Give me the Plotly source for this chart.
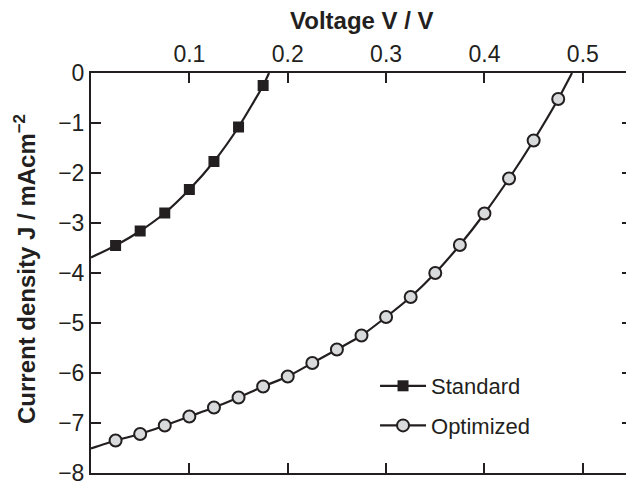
import plotly.graph_objects as go

# ---- data ----
std_v = [0.025, 0.05, 0.075, 0.1, 0.125, 0.15, 0.175]
std_j = [-3.45, -3.16, -2.80, -2.33, -1.77, -1.08, -0.25]
std_j_at_v0 = -3.69      # fitted curve value at V = 0
std_v_at_j0 = 0.181      # fitted curve crossing J = 0

opt_v = [0.025, 0.05, 0.075, 0.1, 0.125, 0.15, 0.175, 0.2, 0.225, 0.25,
         0.275, 0.3, 0.325, 0.35, 0.375, 0.4, 0.425, 0.45, 0.475]
opt_j = [-7.35, -7.22, -7.05, -6.87, -6.69, -6.49, -6.27, -6.07, -5.80, -5.53,
         -5.25, -4.88, -4.48, -4.00, -3.44, -2.81, -2.11, -1.35, -0.52]
opt_j_at_v0 = -7.51
opt_v_at_j0 = 0.489

x_ticks = [0.1, 0.2, 0.3, 0.4, 0.5]
x_ticktext = ["0.1", "0.2", "0.3", "0.4", "0.5"]
y_ticks = [0, -1, -2, -3, -4, -5, -6, -7, -8]

series_names = ["Standard", "Optimized"]

INK = "#231f20"
FILL = "#d9dadb"
FONT = "Liberation Sans, Arial, sans-serif"

fig = go.Figure()

# fitted curves
fig.add_trace(go.Scatter(
    x=[0.0] + std_v + [std_v_at_j0], y=[std_j_at_v0] + std_j + [0.0],
    mode="lines", line=dict(color=INK, width=2.2, shape="spline", smoothing=0.6),
    showlegend=False, hoverinfo="skip"))
fig.add_trace(go.Scatter(
    x=[0.0] + opt_v + [opt_v_at_j0], y=[opt_j_at_v0] + opt_j + [0.0],
    mode="lines", line=dict(color=INK, width=2.2, shape="spline", smoothing=0.6),
    showlegend=False, hoverinfo="skip"))

# measured points
fig.add_trace(go.Scatter(
    x=std_v, y=std_j, mode="markers",
    marker=dict(symbol="square", size=11, color=INK, line=dict(width=0)),
    showlegend=False))
fig.add_trace(go.Scatter(
    x=opt_v, y=opt_j, mode="markers",
    marker=dict(symbol="circle", size=12, color=FILL, line=dict(width=2, color=INK)),
    showlegend=False))

# legend entries
fig.add_trace(go.Scatter(
    x=[None], y=[None], mode="lines+markers", name=series_names[0], legendgroup="a",
    line=dict(color=INK, width=2.2),
    marker=dict(symbol="square", size=11, color=INK, line=dict(width=0))))
fig.add_trace(go.Scatter(
    x=[None], y=[None], mode="lines+markers", name=series_names[1], legendgroup="b",
    line=dict(color=INK, width=2.2),
    marker=dict(symbol="circle", size=12, color=FILL, line=dict(width=2, color=INK))))

axis_common = dict(
    showgrid=False, zeroline=False, showline=True, linewidth=2, linecolor=INK,
    ticks="inside", ticklen=10, tickwidth=1.5, tickcolor=INK, mirror="ticks",
    tickfont=dict(family=FONT, size=23, color=INK), ticklabeloverflow="allow",
    automargin=False,
)

# the page body adds an 8px offset; figure is sized so the plot lands where the reference has it
fig.update_layout(
    width=626, height=473,
    margin=dict(l=83, r=2, t=65, b=8, autoexpand=False),
    paper_bgcolor="white", plot_bgcolor="white",
    font=dict(family=FONT, size=22, color=INK),
    xaxis=dict(range=[0, 0.55], side="top", tickvals=x_ticks, ticktext=x_ticktext,
               **axis_common),
    yaxis=dict(range=[-8, 0], tickvals=y_ticks, **axis_common),
    legend=dict(x=0.525, y=0.27, xanchor="left", yanchor="top",
                bgcolor="rgba(0,0,0,0)", borderwidth=0,
                font=dict(family=FONT, size=22, color=INK),
                itemwidth=46, tracegroupgap=8),
    annotations=[
        dict(text="<b>Voltage V / V</b>", xref="paper", yref="paper",
             x=0.5, y=1, yshift=53, xanchor="center", yanchor="middle",
             showarrow=False, font=dict(family=FONT, size=24, color=INK)),
        dict(text="<b>Current density J / mAcm<sup>−2</sup></b>", xref="paper", yref="paper",
             x=0, xshift=-66, y=0.5, yshift=4, xanchor="center", yanchor="middle", textangle=-90,
             showarrow=False, font=dict(family=FONT, size=24, color=INK)),
    ],
)

fig.write_html("out.html")
